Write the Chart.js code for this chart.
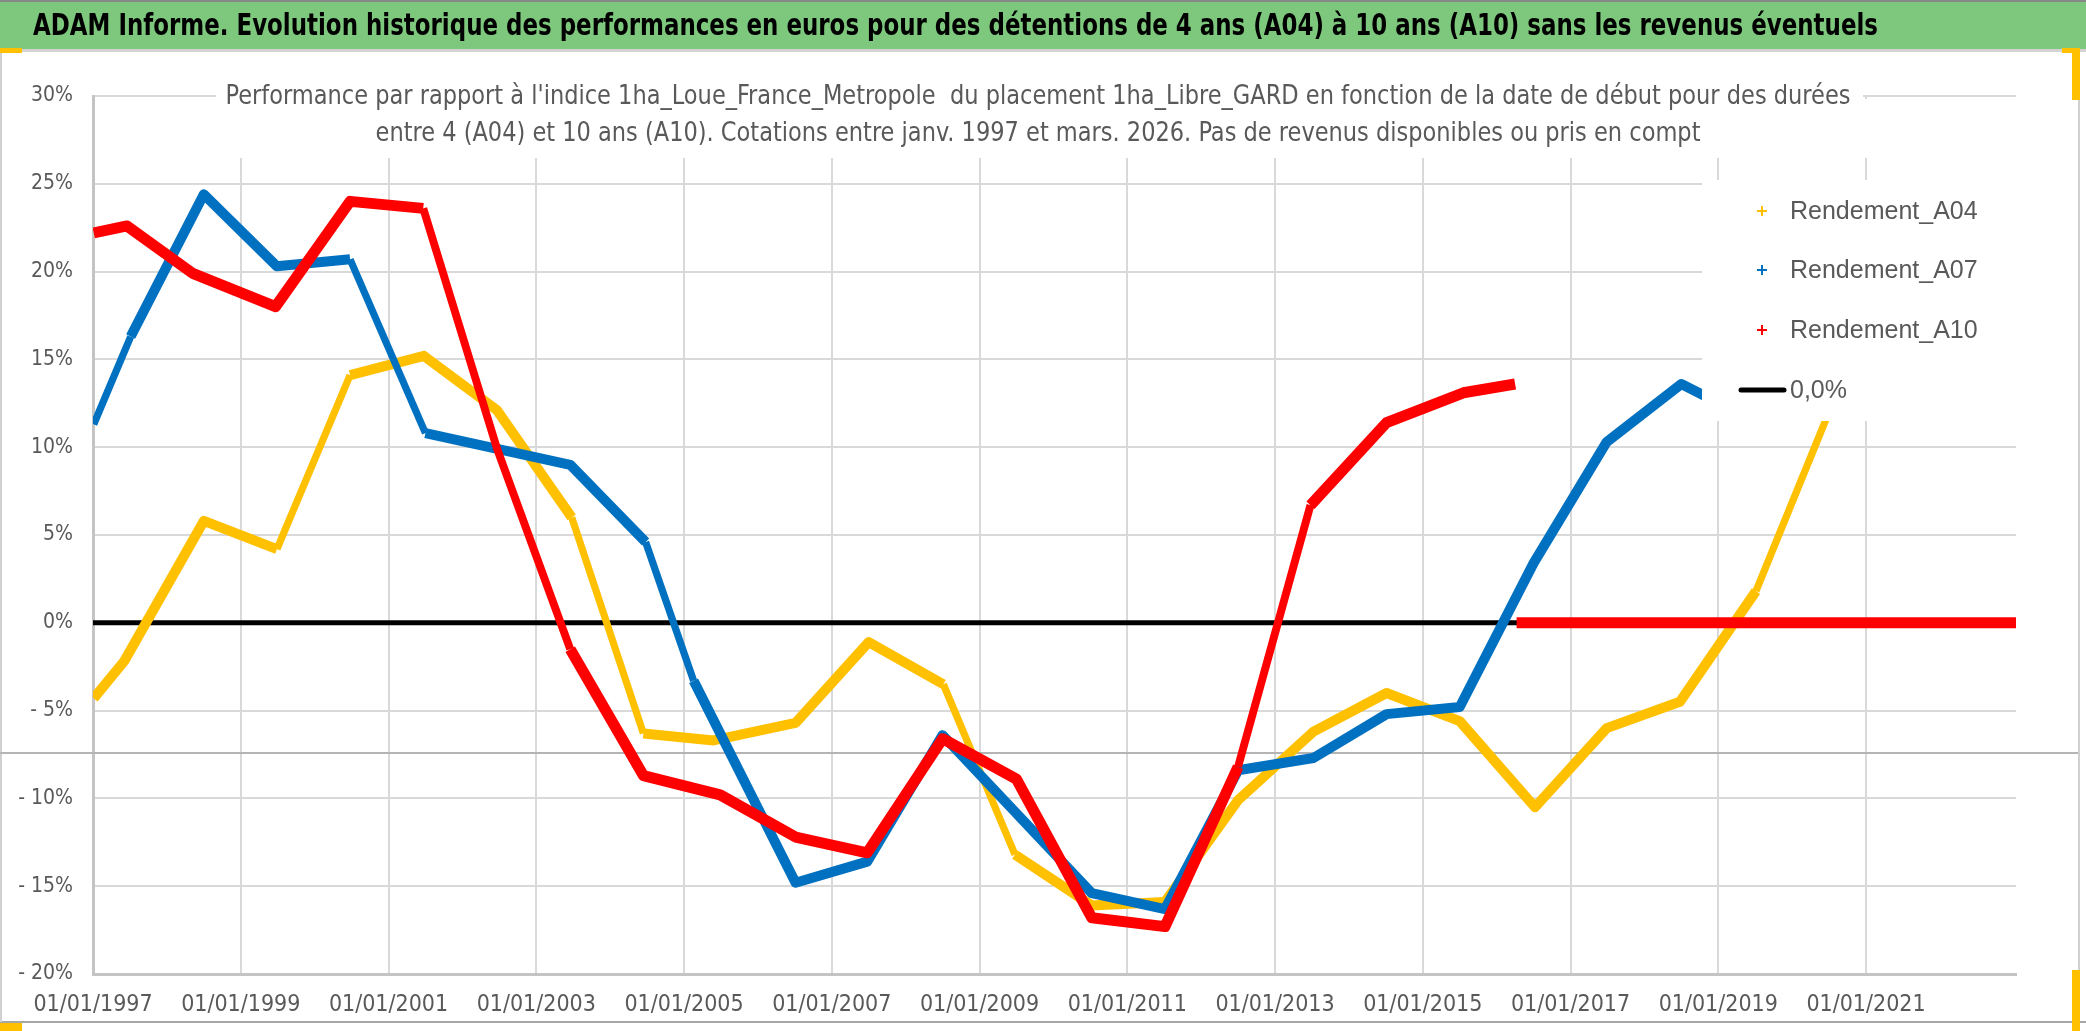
<!DOCTYPE html>
<html>
<head>
<meta charset="utf-8">
<script src="https://cdn.jsdelivr.net/npm/chart.js@4.4.1/dist/chart.umd.min.js"></script>
<style>
  html, body { margin: 0; padding: 0; background: #fff; overflow: hidden; }
  canvas { display: block; }
</style>
</head>
<body>
<canvas id="perf" width="2086" height="1031"></canvas>
<script>
const NARROW = "'Liberation Sans Narrow', 'DejaVu Sans Condensed', 'Arial Narrow', sans-serif";

const chartTitle = "ADAM Informe. Evolution historique des performances en euros pour des détentions de 4 ans (A04) à 10 ans (A10) sans les revenus éventuels";
const subTitle = [
  "Performance par rapport à l'indice 1ha_Loue_France_Metropole  du placement 1ha_Libre_GARD en fonction de la date de début pour des durées",
  "entre 4 (A04) et 10 ans (A10). Cotations entre janv. 1997 et mars. 2026. Pas de revenus disponibles ou pris en compt"
];

const seriesNames = ['Rendement_A04', 'Rendement_A07', 'Rendement_A10', '0,0%'];
const seriesColors = ['#FFC000', '#0070C0', '#FF0000', '#000000'];

// date de début (années décimales) et rendement en %
const a04Dates  = [1997.01, 1997.42, 1998.50, 1999.49, 2000.48, 2001.48, 2002.47, 2003.48, 2004.45, 2005.40, 2006.51, 2007.50, 2008.51, 2009.48, 2010.52, 2011.51, 2012.50, 2013.52, 2014.51, 2015.50, 2016.52, 2017.49, 2018.48, 2019.51, 2020.44, 2020.75];
const a04Values = [-4.3, -2.2, 5.8, 4.2, 14.1, 15.2, 12.1, 6.0, -6.3, -6.7, -5.7, -1.1, -3.5, -13.2, -16.1, -15.9, -10.1, -6.2, -4.0, -5.6, -10.5, -6.0, -4.5, 1.8, 11.4, 14.5];

const a07Dates  = [1997.01, 1997.51, 1998.50, 1999.49, 2000.48, 2001.50, 2003.46, 2004.48, 2005.13, 2006.51, 2007.48, 2008.50, 2010.52, 2011.51, 2012.50, 2013.52, 2014.51, 2015.50, 2016.50, 2017.49, 2018.50, 2018.78, 2019.20];
const a07Values = [11.3, 16.3, 24.4, 20.3, 20.7, 10.8, 9.0, 4.6, -3.3, -14.8, -13.6, -6.4, -15.4, -16.3, -8.4, -7.7, -5.2, -4.8, 3.4, 10.3, 13.6, 13.0, 12.1];

const a10Dates  = [1997.01, 1997.46, 1998.35, 1999.47, 2000.48, 2001.47, 2002.47, 2003.46, 2004.45, 2005.49, 2006.51, 2007.48, 2008.50, 2009.50, 2010.52, 2011.51, 2012.50, 2013.48, 2014.51, 2015.55, 2016.25];
const a10Values = [22.2, 22.6, 19.9, 18.0, 24.0, 23.6, 9.9, -1.5, -8.7, -9.8, -12.2, -13.1, -6.6, -8.9, -16.8, -17.3, -8.2, 6.7, 11.4, 13.1, 13.6];

// A10 sans données après 2016 : valeurs à 0
const a10ZeroDates  = [2016.27, 2023.03];
const a10ZeroValues = [0, 0];

const zeroDates  = [1997.0, 2023.03];
const zeroValues = [0, 0];

const xTicks = [1997, 1999, 2001, 2003, 2005, 2007, 2009, 2011, 2013, 2015, 2017, 2019, 2021];
const yTicks = [-20, -15, -10, -5, 0, 5, 10, 15, 20, 25, 30];

function points(xs, ys) {
  return xs.map((x, i) => ({ x: x, y: ys[i] }));
}

// texte étiré horizontalement pour tenir une largeur donnée (police étroite type Calibri)
function squeezeFactor(ctx, text, font, targetWidth) {
  ctx.font = font;
  return targetWidth / ctx.measureText(text).width;
}
function drawSqueezed(ctx, text, font, x, y, sx, align) {
  ctx.save();
  ctx.font = font;
  ctx.translate(x, y);
  ctx.scale(sx, 1);
  ctx.textAlign = align;
  ctx.textBaseline = 'middle';
  ctx.fillText(text, 0, 0);
  ctx.restore();
}

const framePlugin = {
  id: 'frame',
  beforeDraw(chart) {
    const ctx = chart.ctx;
    ctx.save();
    ctx.fillStyle = '#ffffff';
    ctx.fillRect(0, 0, chart.width, chart.height);
    // bandeau vert
    ctx.fillStyle = '#888888';
    ctx.fillRect(0, 0, chart.width, 2);
    ctx.fillStyle = '#7ec87e';
    ctx.fillRect(0, 2, chart.width, 47);
    ctx.fillStyle = '#d4d4d4';
    ctx.fillRect(0, 49, chart.width, 3);
    const tFont = 'bold 30px ' + NARROW;
    const tsx = squeezeFactor(ctx, chartTitle, tFont, 1845);
    ctx.fillStyle = '#000000';
    drawSqueezed(ctx, chartTitle, tFont, 33, 27, tsx, 'left');
    // bords
    ctx.fillStyle = '#a6a6a6';
    ctx.fillRect(0, 1021, chart.width, 2);
    ctx.fillStyle = '#d0d0d0';
    ctx.fillRect(0, 52, 2, 970);
    ctx.fillRect(2078, 52, 2, 970);
    ctx.fillStyle = '#FFC000';
    ctx.fillRect(0, 48, 22, 5);
    ctx.fillRect(0, 1023, 22, 8);
    ctx.fillRect(2062, 48, 18, 5);
    ctx.fillRect(2072, 48, 8, 52);
    ctx.fillRect(2072, 970, 8, 61);
    ctx.restore();
  },
  beforeDatasetsDraw(chart) {
    const ctx = chart.ctx;
    const y = chart.scales.y;
    ctx.save();
    // trait horizontal isolé
    ctx.fillStyle = '#b4b4b4';
    ctx.fillRect(0, Math.round(y.getPixelForValue(-7.4)) - 1, 2078, 2);
    // cadre du sous-titre
    ctx.fillStyle = '#ffffff';
    ctx.fillRect(216, 72, 1647, 86);
    ctx.fillRect(1863, 99, 12, 59);
    const sFont = '27px ' + NARROW;
    const ssx = squeezeFactor(ctx, subTitle[0], sFont, 1625);
    ctx.fillStyle = '#595959';
    drawSqueezed(ctx, subTitle[0], sFont, 1038, 97, ssx, 'center');
    drawSqueezed(ctx, subTitle[1], sFont, 1038, 134, ssx, 'center');
    ctx.restore();
  },
  afterDatasetsDraw(chart) {
    const ctx = chart.ctx;
    ctx.save();
    ctx.fillStyle = '#ffffff';
    ctx.fillRect(1702, 180, 340, 241);
    ctx.font = '25px "Liberation Sans", Arial, sans-serif';
    ctx.textAlign = 'left';
    ctx.textBaseline = 'middle';
    const rows = [211, 270, 330, 390];
    seriesNames.forEach((name, i) => {
      const cy = rows[i];
      ctx.strokeStyle = seriesColors[i];
      if (i < 3) {
        ctx.lineWidth = 2;
        ctx.beginPath();
        ctx.moveTo(1757, cy); ctx.lineTo(1767, cy);
        ctx.moveTo(1762, cy - 5); ctx.lineTo(1762, cy + 5);
        ctx.stroke();
      } else {
        ctx.lineWidth = 5;
        ctx.lineCap = 'round';
        ctx.beginPath();
        ctx.moveTo(1741, cy); ctx.lineTo(1784, cy);
        ctx.stroke();
      }
      ctx.fillStyle = '#595959';
      ctx.fillText(name, 1790, cy + 1);
    });
    ctx.restore();
  }
};

// les marqueurs "+" serrés paraissent plus fins sur les pentes raides
function lineSet(label, data, color, order, width) {
  return {
    label: label,
    data: data,
    borderColor: color,
    backgroundColor: color,
    borderWidth: width,
    pointRadius: 0,
    tension: 0,
    borderJoinStyle: 'round',
    borderCapStyle: 'butt',
    order: order,
    segment: {
      borderWidth: (s) => {
        const dx = Math.abs(s.p1.x - s.p0.x) || 1;
        const dy = Math.abs(s.p1.y - s.p0.y);
        return dy / dx > 2.2 ? width * 0.72 : width;
      }
    }
  };
}

new Chart(document.getElementById('perf').getContext('2d'), {
  type: 'line',
  data: {
    datasets: [
      lineSet(seriesNames[2], points(a10Dates, a10Values), seriesColors[2], 0, 11),
      lineSet(seriesNames[2] + '_0', points(a10ZeroDates, a10ZeroValues), seriesColors[2], 0, 11),
      lineSet(seriesNames[1], points(a07Dates, a07Values), seriesColors[1], 1, 10),
      lineSet(seriesNames[0], points(a04Dates, a04Values), seriesColors[0], 2, 10),
      lineSet(seriesNames[3], points(zeroDates, zeroValues), seriesColors[3], 3, 5)
    ]
  },
  options: {
    responsive: false,
    devicePixelRatio: 1,
    animation: false,
    layout: { padding: { top: 96, right: 70, left: 0, bottom: 0 } },
    plugins: {
      legend: { display: false },
      title: { display: false },
      tooltip: { enabled: false }
    },
    scales: {
      x: {
        type: 'linear',
        min: 1997,
        max: 2023.03,
        afterBuildTicks: (scale) => { scale.ticks = xTicks.map(v => ({ value: v })); },
        afterFit: (scale) => { scale.height = 57; },
        grid: { color: '#d9d9d9', lineWidth: 2, drawTicks: false },
        border: { color: '#c4c4c4', width: 3 },
        ticks: {
          color: '#595959',
          font: { family: NARROW, size: 23 },
          padding: 17,
          maxRotation: 0,
          autoSkip: false,
          callback: (v) => '01/01/' + v
        }
      },
      y: {
        min: -20,
        max: 30,
        afterBuildTicks: (scale) => { scale.ticks = yTicks.map(v => ({ value: v })); },
        afterFit: (scale) => { scale.width = 93; },
        grid: { color: '#d9d9d9', lineWidth: 2, drawTicks: false },
        border: { color: '#c4c4c4', width: 3 },
        ticks: {
          color: '#595959',
          font: { family: NARROW, size: 21 },
          padding: 20,
          callback: (v) => v < 0 ? '- ' + Math.abs(v) + '%' : v + '%'
        }
      }
    }
  },
  plugins: [framePlugin]
});
</script>
</body>
</html>
